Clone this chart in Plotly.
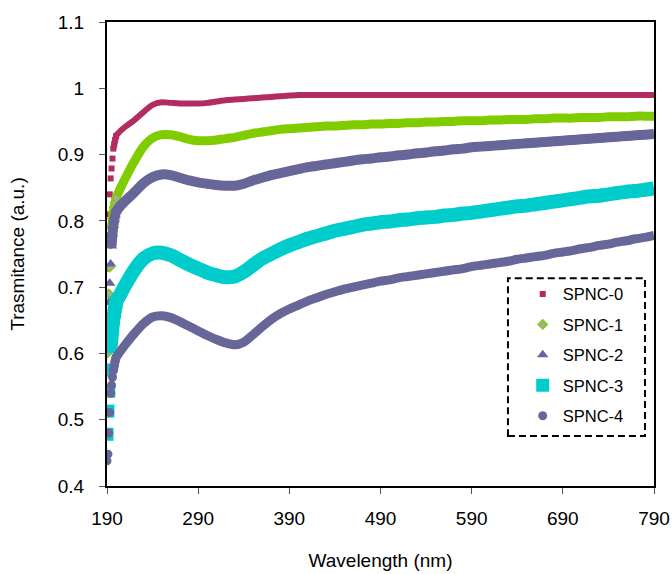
import plotly.graph_objects as go

wavelength = [190, 191, 192, 193, 194, 195, 196, 197, 198, 199, 200, 205, 210,
              220, 230, 240, 250, 260, 270, 280, 290, 300, 310, 320, 330, 340,
              350, 360, 370, 380, 390, 400, 410, 420, 430, 440, 450, 460, 470,
              480, 490, 500, 510, 520, 530, 540, 550, 560, 570, 580, 590, 600,
              610, 620, 630, 640, 650, 660, 670, 680, 690, 700, 710, 720, 730,
              740, 750, 760, 770, 780, 790]

spnc0 = [0.728, 0.778, 0.810, 0.840, 0.864, 0.879, 0.894, 0.909, 0.916, 0.922, 0.928, 0.936, 0.942,
         0.952, 0.964, 0.975, 0.979, 0.978, 0.977, 0.977, 0.977, 0.978, 0.980, 0.982, 0.983, 0.984,
         0.985, 0.986, 0.987, 0.988, 0.989, 0.990, 0.990, 0.990, 0.990, 0.990, 0.990, 0.990, 0.990,
         0.990, 0.990, 0.990, 0.990, 0.990, 0.990, 0.990, 0.990, 0.990, 0.990, 0.990, 0.990, 0.990,
         0.990, 0.990, 0.990, 0.990, 0.990, 0.990, 0.990, 0.990, 0.990, 0.990, 0.990, 0.990, 0.990,
         0.990, 0.990, 0.990, 0.990, 0.990, 0.990]

spnc1 = [0.600, 0.648, 0.690, 0.730, 0.765, 0.790, 0.803, 0.813, 0.821, 0.828, 0.834, 0.850, 0.864,
         0.890, 0.912, 0.925, 0.930, 0.930, 0.927, 0.923, 0.921, 0.921, 0.922, 0.924, 0.926, 0.929,
         0.932, 0.934, 0.936, 0.938, 0.939, 0.940, 0.941, 0.942, 0.943, 0.943, 0.944, 0.945, 0.945,
         0.946, 0.946, 0.947, 0.947, 0.948, 0.948, 0.949, 0.949, 0.950, 0.950, 0.951, 0.951, 0.951,
         0.952, 0.952, 0.953, 0.953, 0.953, 0.954, 0.954, 0.955, 0.955, 0.955, 0.956, 0.956, 0.956,
         0.957, 0.957, 0.957, 0.958, 0.958, 0.958]

spnc2 = [0.625, 0.655, 0.677, 0.706, 0.735, 0.762, 0.780, 0.793, 0.802, 0.809, 0.814, 0.823, 0.830,
         0.843, 0.857, 0.866, 0.870, 0.869, 0.865, 0.861, 0.858, 0.856, 0.854, 0.853, 0.853, 0.856,
         0.861, 0.865, 0.869, 0.872, 0.875, 0.878, 0.881, 0.883, 0.885, 0.887, 0.889, 0.891, 0.893,
         0.894, 0.896, 0.897, 0.899, 0.900, 0.902, 0.903, 0.905, 0.906, 0.908, 0.909, 0.911, 0.912,
         0.913, 0.914, 0.915, 0.916, 0.917, 0.918, 0.919, 0.920, 0.921, 0.922, 0.923, 0.924, 0.925,
         0.926, 0.927, 0.928, 0.929, 0.930, 0.931]

spnc3 = [0.478, 0.513, 0.543, 0.575, 0.610, 0.625, 0.640, 0.652, 0.662, 0.670, 0.677, 0.690, 0.703,
         0.726, 0.743, 0.751, 0.752, 0.748, 0.741, 0.734, 0.728, 0.722, 0.718, 0.715, 0.716, 0.723,
         0.733, 0.743, 0.750, 0.757, 0.763, 0.768, 0.773, 0.777, 0.781, 0.785, 0.788, 0.791, 0.794,
         0.796, 0.798, 0.799, 0.801, 0.802, 0.804, 0.805, 0.806, 0.808, 0.809, 0.811, 0.812, 0.814,
         0.816, 0.818, 0.820, 0.822, 0.823, 0.825, 0.827, 0.829, 0.831, 0.833, 0.835, 0.837, 0.838,
         0.840, 0.842, 0.844, 0.845, 0.847, 0.849]

spnc4 = [0.438, 0.448, 0.480, 0.511, 0.540, 0.552, 0.564, 0.574, 0.582, 0.589, 0.594, 0.604, 0.613,
         0.630, 0.645, 0.655, 0.657, 0.654, 0.648, 0.641, 0.634, 0.627, 0.621, 0.616, 0.613, 0.617,
         0.628, 0.640, 0.651, 0.660, 0.667, 0.673, 0.679, 0.684, 0.689, 0.693, 0.697, 0.700, 0.703,
         0.706, 0.709, 0.711, 0.714, 0.716, 0.718, 0.720, 0.722, 0.724, 0.726, 0.728, 0.731, 0.733,
         0.735, 0.737, 0.739, 0.742, 0.744, 0.746, 0.748, 0.751, 0.753, 0.755, 0.758, 0.760, 0.763,
         0.765, 0.768, 0.770, 0.773, 0.775, 0.778]

series_names = ["SPNC-0", "SPNC-1", "SPNC-2", "SPNC-3", "SPNC-4"]
series_values = [spnc0, spnc1, spnc2, spnc3, spnc4]

x_ticks = [190, 290, 390, 490, 590, 690, 790]
y_ticks = [0.4, 0.5, 0.6, 0.7, 0.8, 0.9, 1.0, 1.1]

# styles
styles = [
    dict(color="#B22C62", symbol="square", size=6, fill="#B22C62", mline=0, width=6, start=7),
    dict(color="#80CC00", symbol="diamond", size=7, fill="#A8A8A8", mline=1.5, width=9, start=5),
    dict(color="#666699", symbol="triangle-up", size=10, fill="#666699", mline=0, width=10, start=5),
    dict(color="#00CCCC", symbol="square", size=13, fill="#00CCCC", mline=0, width=14, start=4),
    dict(color="#666699", symbol="circle", size=9, fill="#666699", mline=0, width=9, start=7),
]
n_markers = 11

FONT = "Liberation Sans, Arial, sans-serif"

fig = go.Figure()
for name, vals, st in zip(series_names, series_values, styles):
    s = st["start"]
    fig.add_trace(go.Scatter(
        x=wavelength[s:], y=vals[s:], mode="lines",
        line=dict(color=st["color"], width=st["width"], shape="spline", smoothing=0.7),
        showlegend=False, legendgroup=name, hoverinfo="skip"))
    fig.add_trace(go.Scatter(
        x=wavelength[:n_markers], y=vals[:n_markers], mode="markers", name=name,
        legendgroup=name,
        marker=dict(symbol=st["symbol"], size=st["size"], color=st["fill"],
                    line=dict(color=st["color"], width=st["mline"]))))

fig.add_shape(type="rect", xref="paper", yref="paper",
              x0=0.733, x1=0.9835, y0=0.108, y1=0.448,
              line=dict(color="black", width=2, dash="7px,4px"), fillcolor="rgba(0,0,0,0)")

fig.update_layout(
    width=672, height=574,
    margin=dict(l=107, r=18, t=22, b=88),
    paper_bgcolor="white", plot_bgcolor="white",
    font=dict(family=FONT, size=19, color="black"),
    legend=dict(x=0.76, y=0.451, xanchor="left", yanchor="top",
                bgcolor="rgba(0,0,0,0)", borderwidth=0,
                font=dict(family=FONT, size=16.5, color="black"),
                tracegroupgap=6),
    xaxis=dict(range=[190, 790], tickvals=x_ticks, ticktext=[str(v) for v in x_ticks],
               automargin=False,
               showgrid=False, zeroline=False, showline=True, linecolor="black", linewidth=2,
               mirror=True, ticks="outside", ticklen=6, tickcolor="#555", tickwidth=1,
               ticklabelstandoff=8, tickfont=dict(size=19),
               title=dict(text="Wavelength (nm)", standoff=26,
                          font=dict(family=FONT, size=19))),
    yaxis=dict(range=[0.4, 1.1], tickvals=y_ticks, tickformat="~g",
               automargin=False,
               showgrid=False, zeroline=False, showline=True, linecolor="black", linewidth=2,
               mirror=True, ticks="outside", ticklen=6, tickcolor="#555", tickwidth=1,
               ticklabelstandoff=11, tickfont=dict(size=19),
               title=dict(text="Trasmitance (a.u.)", standoff=28,
                          font=dict(family=FONT, size=19))),
)

fig.write_html(
    "out.html",
    config={"displayModeBar": False},
    post_script="document.body.style.margin='0';document.body.style.overflow='hidden';",
)
